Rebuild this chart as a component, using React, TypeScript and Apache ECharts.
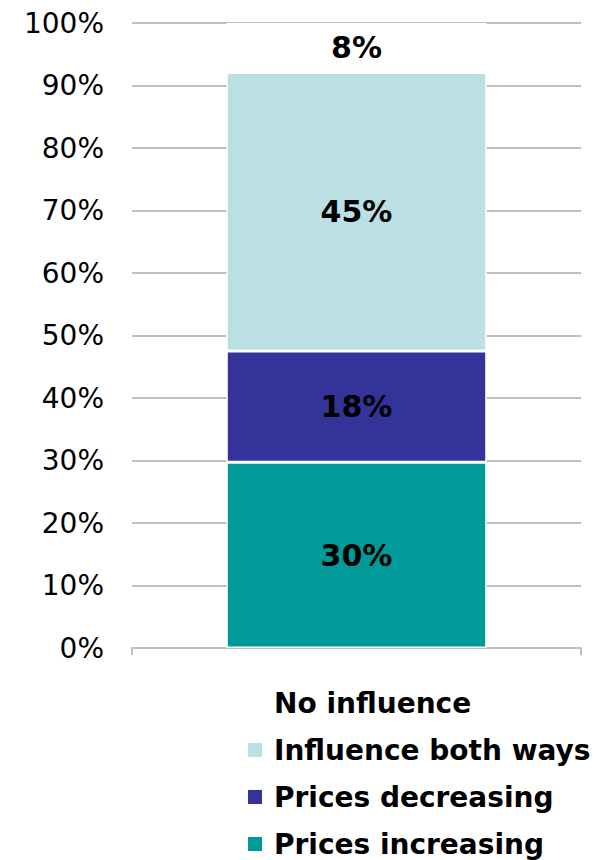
import React, { useEffect, useRef } from "react";
import * as echarts from "echarts";

const categories = ["All"];
const seriesNames = ["Prices increasing", "Prices decreasing", "Influence both ways", "No influence"];
const pricesIncreasing = [30];
const pricesDecreasing = [18];
const influenceBothWays = [45];
const noInfluence = [8];
const seriesColors = ["#009a98", "#333399", "#bbe0e3", "#ffffff"];
const legendOrder = ["No influence", "Influence both ways", "Prices decreasing", "Prices increasing"];
const yTicks = { min: 0, max: 100, interval: 10 };

export default function App() {
  const ref = useRef<HTMLDivElement>(null);
  useEffect(() => {
    if (!ref.current) return;
    const chart = echarts.init(ref.current, undefined, { renderer: "svg" });
    const raw = [pricesIncreasing, pricesDecreasing, influenceBothWays, noInfluence];
    const totals = categories.map((_, i) => raw.reduce((s, arr) => s + arr[i], 0));
    const font = "'DejaVu Sans', Verdana, sans-serif";
    chart.setOption({
      animation: false,
      textStyle: { fontFamily: font },
      grid: { left: 132, right: 25, top: 23, bottom: 212 },
      xAxis: {
        type: "category",
        data: categories,
        axisLine: { lineStyle: { color: "#c0c0c0", width: 2 } },
        axisTick: { show: true, length: 7, lineStyle: { color: "#c0c0c0", width: 2 } },
        axisLabel: { show: false },
      },
      yAxis: {
        type: "value",
        min: yTicks.min,
        max: yTicks.max,
        interval: yTicks.interval,
        axisLine: { show: false },
        axisTick: { show: false },
        axisLabel: {
          formatter: "{value}%",
          fontSize: 28,
          color: "#000",
          fontFamily: font,
          margin: 28,
        },
        splitLine: { lineStyle: { color: "#c0c0c0", width: 2 } },
      },
      legend: {
        data: legendOrder,
        orient: "vertical",
        left: 246,
        top: 689,
        height: 400,
        padding: 0,
        itemWidth: 16,
        itemHeight: 16,
        itemGap: 19,
        icon: "rect",
        textStyle: {
          fontSize: 28,
          fontWeight: "bold",
          color: "#000",
          fontFamily: font,
          padding: [0, 0, 0, 6],
        },
      },
      series: seriesNames.map((name, si) => ({
        name,
        type: "bar",
        stack: "total",
        barWidth: "58%",
        data: raw[si].map((v, i) => ({ value: (v / totals[i]) * 100 })),
        itemStyle: { color: seriesColors[si], borderColor: "#ffffff", borderWidth: 1.5 },
        label: {
          show: true,
          position: "inside",
          fontSize: 30,
          fontWeight: "bold",
          color: "#000",
          fontFamily: font,
          formatter: (p: any) => `${raw[si][p.dataIndex]}%`,
        },
      })),
    });
    return () => chart.dispose();
  }, []);
  return <div ref={ref} style={{ width: 606, height: 860, position: "absolute", left: 0, top: 0 }} />;
}
